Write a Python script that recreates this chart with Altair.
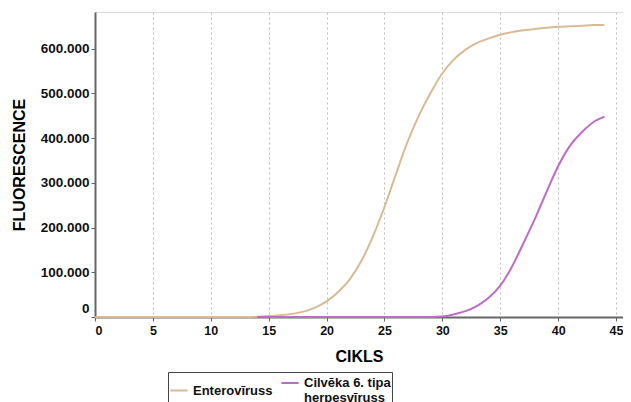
import altair as alt
import pandas as pd

cycles_entero = list(range(0, 45))
entero = [0, 0, 0, 0, 0, 0, 0, 0, 0, 0, 0, 0, 0, 0, 500, 2000, 4000, 7000, 12000, 21000,
          35000, 56000, 84000, 125000, 180000, 246000, 320000, 392000, 452000, 502000,
          545000, 576000, 598000, 613000, 623000, 631000, 637000, 641000, 644000, 647000,
          649000, 650000, 651000, 653000, 653000]

cycles_herpes = list(range(14, 45))
herpes = [0, 0, 0, 0, 0, 0, 0, 0, 0, 0, 0, 0, 0, 0, 0, 0, 1000, 6000, 13000, 25000,
          43000, 70000, 112000, 165000, 220000, 280000, 337000, 382000, 412000, 435000, 448000]

series_names = ["Enterovīruss", "Cilvēka 6. tipa herpesvīruss"]
series_colors = ["#d8bb94", "#bd6cc4"]

rows = []
for c, v in zip(cycles_entero, entero):
    rows.append({"cikls": c, "val": v, "series": series_names[0]})
for c, v in zip(cycles_herpes, herpes):
    rows.append({"cikls": c, "val": v, "series": series_names[1]})
df = pd.DataFrame(rows)

font = "Liberation Sans"

chart = alt.Chart(df).mark_line(strokeWidth=2, interpolate="monotone").encode(
    x=alt.X("cikls:Q", scale=alt.Scale(domain=[0, 45.6], nice=False),
            axis=alt.Axis(values=[0, 5, 10, 15, 20, 25, 30, 35, 40, 45], title="CIKLS",
                          grid=True, gridDash=[2, 3], gridColor="#bdbdbd", gridWidth=1,
                          domainColor="#666666", domainWidth=2, tickColor="#666666",
                          tickSize=4, labelFont=font, labelFontWeight="bold", labelFontSize=12.5,
                          labelColor="#111111", titleFont=font, titleFontSize=16,
                          titleFontWeight="bold", titlePadding=12, labelPadding=3)),
    y=alt.Y("val:Q", scale=alt.Scale(domain=[0, 682000], nice=False),
            axis=alt.Axis(values=[0, 100000, 200000, 300000, 400000, 500000, 600000],
                          title="FLUORESCENCE", grid=False,
                          labelExpr="replace(format(datum.value, ',d'), ',', '.')",
                          labelOffset={"condition": {"test": "datum.value == 0", "value": -9}, "value": 0},
                          domainColor="#666666", domainWidth=2, tickColor="#666666",
                          tickSize=4, labelFont=font, labelFontWeight="bold", labelFontSize=13.5,
                          labelColor="#111111", titleFont=font, titleFontSize=16,
                          titleFontWeight="bold", titlePadding=13)),
    color=alt.Color("series:N", sort=series_names,
                    scale=alt.Scale(domain=series_names, range=series_colors),
                    legend=alt.Legend(title=None, orient="none", direction="horizontal",
                                      legendX=73, legendY=360,
                                      strokeColor="#444444", padding=1,
                                      symbolType="stroke", symbolStrokeWidth=2, symbolSize=300,
                                      labelFont=font, labelFontWeight="bold", labelFontSize=13,
                                      labelColor="#111111", columnPadding=4, labelLimit=300,
                                      labelExpr="datum.label == 'Cilvēka 6. tipa herpesvīruss' ? ['Cilvēka 6. tipa', 'herpesvīruss'] : datum.label")),
).properties(
    width=528, height=305,
    autosize=alt.AutoSizeParams(type="none"),
    padding={"left": 87, "right": 0, "top": 4, "bottom": 95},
).configure_view(stroke=None).configure(background="white")

chart.save("out.html", embed_options={"renderer": "svg", "actions": False})
